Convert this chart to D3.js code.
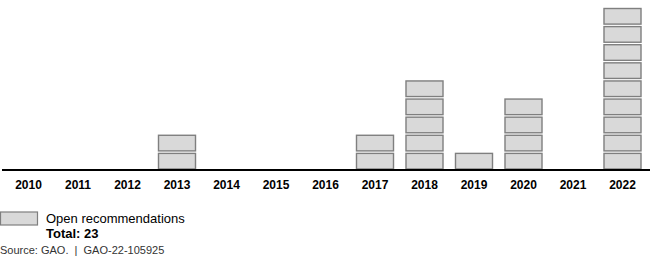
<!DOCTYPE html>
<html>
<head>
<meta charset="utf-8">
<script src="https://cdn.jsdelivr.net/npm/d3@7"></script>
<style>
  body { margin: 0; background: #fff; }
  svg { display: block; font-family: "Liberation Sans", Arial, sans-serif; }
</style>
</head>
<body>
<div id="chart"></div>
<script>
const years = ["2010", "2011", "2012", "2013", "2014", "2015", "2016", "2017", "2018", "2019", "2020", "2021", "2022"];
const openRecs = [0, 0, 0, 2, 0, 0, 0, 2, 5, 1, 4, 0, 9];
const legendLabel = "Open recommendations";
const totalLabel = "Total: 23";
const sourceLabel = "Source: GAO.  |  GAO-22-105925";

const width = 650, height = 263;
const baseY = 170;

const svg = d3.select("#chart")
  .append("svg")
  .attr("width", width)
  .attr("height", height);

// one band per year
const x = d3.scaleBand()
  .domain(years)
  .range([3.75, 647.25])
  .paddingInner(0.232)
  .paddingOuter(0.116);

// unit scale: each recommendation is one box
const y = d3.scaleLinear()
  .domain([0, 9])
  .range([baseY, 7]);

// build one cell per recommendation
const cells = [];
years.forEach((yr, i) => {
  for (let k = 0; k < openRecs[i]; k++) cells.push({ year: yr, k: k });
});

const unitH = y(0) - y(1);

svg.append("g")
  .selectAll("rect")
  .data(cells)
  .enter()
  .append("rect")
  .attr("x", d => x(d.year) + 0.5)
  .attr("y", d => y(d.k + 1) + 1.5)
  .attr("width", x.bandwidth() - 1)
  .attr("height", unitH - 2.5)
  .attr("fill", "#d9d9d9")
  .attr("stroke", "#7f7f7f")
  .attr("stroke-width", 1.4);

// baseline axis
const axis = svg.append("g")
  .attr("transform", "translate(0," + baseY + ")")
  .call(d3.axisBottom(x).tickSize(0).tickPadding(10));
axis.select(".domain")
  .attr("d", "M2,0H650")
  .attr("stroke", "#000")
  .attr("stroke-width", 2);
axis.selectAll("text")
  .attr("font-family", "'Liberation Sans', Arial, sans-serif")
  .attr("font-size", 12)
  .attr("font-weight", "bold")
  .attr("fill", "#000");

// legend
const legend = svg.append("g");
legend.append("rect")
  .attr("x", 0.5)
  .attr("y", 212)
  .attr("width", 37)
  .attr("height", 13)
  .attr("fill", "#d9d9d9")
  .attr("stroke", "#7f7f7f")
  .attr("stroke-width", 1.2);
legend.append("text")
  .attr("x", 46)
  .attr("y", 223)
  .attr("font-size", 13)
  .attr("fill", "#000")
  .text(legendLabel);
legend.append("text")
  .attr("x", 46)
  .attr("y", 238)
  .attr("font-size", 13)
  .attr("font-weight", "bold")
  .attr("fill", "#000")
  .text(totalLabel);

svg.append("text")
  .attr("x", 0)
  .attr("y", 254)
  .attr("font-size", 11)
  .attr("fill", "#333")
  .attr("xml:space", "preserve")
  .style("white-space", "pre")
  .text(sourceLabel);
</script>
</body>
</html>
